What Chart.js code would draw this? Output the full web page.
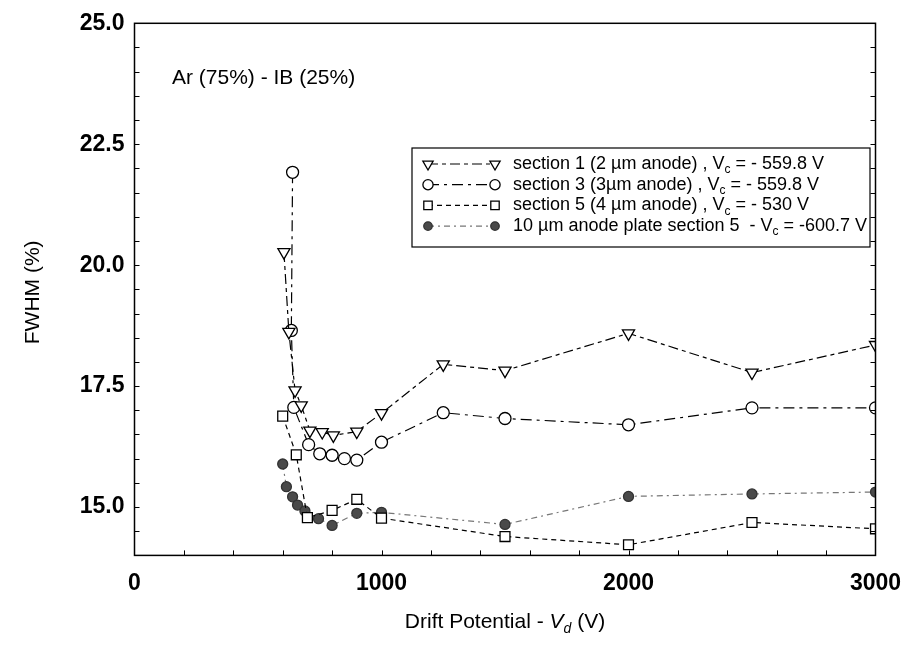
<!DOCTYPE html>
<html>
<head>
<meta charset="utf-8">
<script src="https://cdn.jsdelivr.net/npm/chart.js"></script>
<style>
  html, body { margin:0; padding:0; background:#fff; }
  canvas { display:block; }
</style>
</head>
<body>
<canvas id="fwhmChart" width="908" height="668"></canvas>
<script>
const xTicks = [0, 1000, 2000, 3000];
const yTicks = [15, 17.5, 20, 22.5, 25];

// section 1 (2 um anode)
const sec1V    = [605, 625, 650, 675, 710, 760, 805, 900, 1000, 1250, 1500, 2000, 2500, 3000];
const sec1Fwhm = [20.27, 18.62, 17.41, 17.10, 16.58, 16.55, 16.48, 16.56, 16.94, 17.95, 17.82, 18.59, 17.78, 18.35];

// section 3 (3 um anode)
const sec3V    = [640, 635, 645, 705, 750, 800, 850, 900, 1000, 1250, 1500, 2000, 2500, 3000];
const sec3Fwhm = [21.92, 18.65, 17.06, 16.29, 16.10, 16.07, 16.00, 15.97, 16.34, 16.95, 16.83, 16.70, 17.05, 17.05];

// section 5 (4 um anode)
const sec5V    = [600, 655, 700, 800, 900, 1000, 1500, 2000, 2500, 3000];
const sec5Fwhm = [16.88, 16.08, 14.78, 14.93, 15.16, 14.77, 14.39, 14.22, 14.68, 14.55];

// 10 um anode plate, section 5
const plateV    = [600, 615, 640, 660, 690, 745, 800, 900, 1000, 1500, 2000, 2500, 3000];
const plateFwhm = [15.89, 15.42, 15.21, 15.04, 14.92, 14.76, 14.62, 14.87, 14.89, 14.64, 15.22, 15.27, 15.31];

const FONT = "'Liberation Sans', Arial, sans-serif";

const toPts = (xs, ys) => xs.map((x, i) => ({x: x, y: ys[i]}));

const series = [
  {data: toPts(sec1V, sec1Fwhm), dash: [10,4,4,4], line: '#000', style: 'triangle', rot: 180, r: 7, fill: '#fff', edge: '#000',
   text: ['section 1 (2 µm anode) , V', 'c', ' = - 559.8 V']},
  {data: toPts(sec3V, sec3Fwhm), dash: [11,5,3,5], line: '#000', style: 'circle', rot: 0, r: 6, fill: '#fff', edge: '#000',
   text: ['section 3 (3µm anode) , V', 'c', ' = - 559.8 V']},
  {data: toPts(sec5V, sec5Fwhm), dash: [5,4], line: '#000', style: 'rect', rot: 0, r: 7, fill: '#fff', edge: '#000',
   text: ['section 5 (4 µm anode) , V', 'c', ' = - 530 V']},
  {data: toPts(plateV, plateFwhm), dash: [6,4,2,4], line: '#777', style: 'circle', rot: 0, r: 5, fill: '#4a4a4a', edge: '#333',
   text: ['10 µm anode plate section 5  - V', 'c', ' = -600.7 V']}
];

function drawParts(c, parts, x, y) {
  parts.forEach(p => {
    c.font = p.font;
    c.fillText(p.t, x, y + (p.dy || 0));
    x += c.measureText(p.t).width;
  });
}

function partsWidth(c, parts) {
  let w = 0;
  parts.forEach(p => { c.font = p.font; w += c.measureText(p.t).width; });
  return w;
}

const decor = {
  id: 'decor',
  afterDraw(chart) {
    const c = chart.ctx, a = chart.chartArea;
    const xs = chart.scales.x, ys = chart.scales.y;
    c.save();
    c.strokeStyle = '#000';
    c.lineWidth = 1.5;
    c.setLineDash([]);
    c.strokeRect(a.left, a.top, a.right - a.left, a.bottom - a.top);

    // small inward ticks
    c.lineWidth = 1;
    c.beginPath();
    for (let v = 14.5; v < 25; v += 0.5) {
      const y = Math.round(ys.getPixelForValue(v)) + 0.5;
      c.moveTo(a.left, y); c.lineTo(a.left + 5, y);
      c.moveTo(a.right, y); c.lineTo(a.right - 5, y);
    }
    for (let v = 200; v < 3000; v += 200) {
      const x = Math.round(xs.getPixelForValue(v)) + 0.5;
      c.moveTo(x, a.bottom); c.lineTo(x, a.bottom - 5);
    }
    c.stroke();

    c.fillStyle = '#000';
    c.textBaseline = 'middle';
    c.textAlign = 'left';

    c.font = '21px ' + FONT;
    c.fillText('Ar (75%) - IB (25%)', 172, 78);

    // x axis title with italic V and subscript d
    const xt = [
      {t: 'Drift Potential - ', font: '21px ' + FONT},
      {t: 'V', font: 'italic 21px ' + FONT},
      {t: 'd', font: 'italic 14px ' + FONT, dy: 7},
      {t: ' (V)', font: '21px ' + FONT}
    ];
    const xw = partsWidth(c, xt);
    drawParts(c, xt, (a.left + a.right) / 2 - xw / 2, 622);

    // y axis title
    c.save();
    c.translate(33, (a.top + a.bottom) / 2 + 3);
    c.rotate(-Math.PI / 2);
    c.textAlign = 'center';
    c.font = '21px ' + FONT;
    c.fillText('FWHM (%)', 0, 0);
    c.restore();

    // legend box
    const lx = 412, ly = 148, lw = 458, lh = 99;
    c.fillStyle = '#fff';
    c.fillRect(lx, ly, lw, lh);
    c.lineWidth = 1.2;
    c.strokeRect(lx, ly, lw, lh);
    series.forEach((s, i) => {
      const y = ly + 16 + i * 20.7;
      c.save();
      c.strokeStyle = s.line;
      c.lineWidth = 1.2;
      c.setLineDash(s.dash);
      c.beginPath();
      c.moveTo(428, y); c.lineTo(495, y);
      c.stroke();
      c.setLineDash([]);
      c.fillStyle = s.fill;
      c.strokeStyle = s.edge;
      c.lineWidth = 1.3;
      const opt = {pointStyle: s.style, radius: s.r * 0.85, rotation: s.rot, borderWidth: 1.3};
      Chart.helpers.drawPoint(c, opt, 428, y);
      Chart.helpers.drawPoint(c, opt, 495, y);
      c.restore();
      c.fillStyle = '#000';
      drawParts(c, [
        {t: s.text[0], font: '18px ' + FONT},
        {t: s.text[1], font: '12px ' + FONT, dy: 6},
        {t: s.text[2], font: '18px ' + FONT}
      ], 513, y);
    });
    c.restore();
  }
};

const ctx = document.getElementById('fwhmChart');

new Chart(ctx, {
  type: 'scatter',
  data: {
    datasets: series.map(s => ({
      data: s.data,
      showLine: true,
      tension: 0,
      clip: 0,
      borderColor: s.line,
      borderWidth: 1.2,
      borderDash: s.dash,
      pointStyle: s.style,
      pointRadius: s.r,
      pointRotation: s.rot,
      pointBackgroundColor: s.fill,
      pointBorderColor: s.edge,
      pointBorderWidth: 1.3
    }))
  },
  options: {
    responsive: false,
    animation: false,
    layout: { padding: { left: 0, right: 32.5, top: 23.3, bottom: 0 } },
    plugins: { legend: { display: false }, tooltip: { enabled: false } },
    scales: {
      x: {
        type: 'linear',
        min: 0,
        max: 3000,
        afterBuildTicks: s => { s.ticks = xTicks.map(v => ({value: v})); },
        afterFit: s => { s.height = 112.6; s.paddingLeft = 0; s.paddingRight = 0; },
        grid: { display: false, drawTicks: false },
        border: { display: false },
        ticks: { color: '#000', padding: 14, maxRotation: 0, autoSkip: false,
                 callback: v => String(v),
                 font: { family: FONT, size: 23, weight: 'bold' } }
      },
      y: {
        min: 14,
        max: 25,
        afterBuildTicks: s => { s.ticks = yTicks.map(v => ({value: v})); },
        afterFit: s => { s.width = 134.5; s.paddingTop = 0; s.paddingBottom = 0; },
        grid: { display: false, drawTicks: false },
        border: { display: false },
        ticks: { color: '#000', padding: 10, callback: v => v.toFixed(1),
                 font: { family: FONT, size: 23, weight: 'bold' } }
      }
    }
  },
  plugins: [decor]
});
</script>
</body>
</html>
